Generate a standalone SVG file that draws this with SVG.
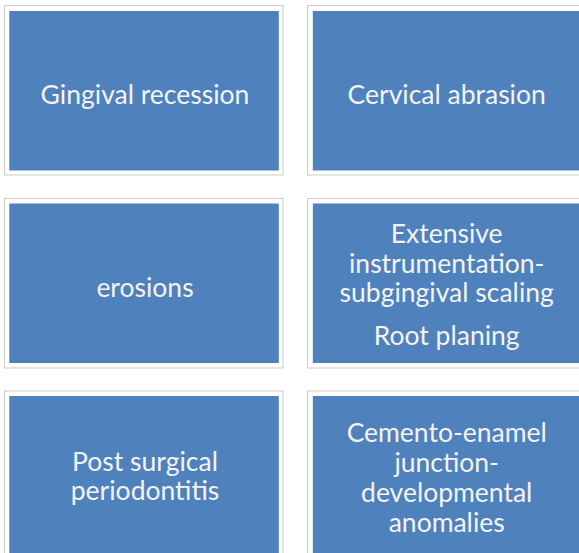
<svg xmlns="http://www.w3.org/2000/svg" width="579" height="553" viewBox="0 0 579 553">
<style>
.frame{fill:#ffffff;stroke:#cbcbcb;stroke-width:1}
.box{fill:#4f81bd}
.t{font-family:Lato,"Open Sans",sans-serif;font-size:26.5px;fill:#f4f4f4;text-anchor:middle}
</style>
<rect width="579" height="553" fill="#ffffff"/>
<g id="n1">
<rect class="frame" x="4.5" y="5.5" width="278.5" height="169.5"/>
<rect class="box" x="9.3" y="11" width="269.5" height="159.5"/>
<text class="t" x="145" y="103.5">Gingival recession</text>
</g>
<g id="n2">
<rect class="frame" x="307.5" y="5.5" width="278.5" height="169.5"/>
<rect class="box" x="312.8" y="11" width="269.5" height="159.5"/>
<text class="t" x="446.7" y="103.5">Cervical abrasion</text>
</g>
<g id="n3">
<rect class="frame" x="4.5" y="198.5" width="278.5" height="169.5"/>
<rect class="box" x="9.3" y="203.5" width="269.5" height="159.5"/>
<text class="t" x="145" y="296.5">erosions</text>
</g>
<g id="n4">
<rect class="frame" x="307.5" y="198.5" width="278.5" height="169.5"/>
<rect class="box" x="312.8" y="203.5" width="269.5" height="159.5"/>
<text class="t" x="446.7" y="243.2">Extensive</text>
<text class="t" x="446.7" y="273">instrumentation-</text>
<text class="t" x="446.7" y="302.2">subgingival scaling</text>
<text class="t" x="446.7" y="344.8">Root planing</text>
</g>
<g id="n5">
<rect class="frame" x="4.5" y="391" width="278.5" height="169.5"/>
<rect class="box" x="9.3" y="396" width="269.5" height="159.5"/>
<text class="t" x="145" y="471.3">Post surgical</text>
<text class="t" x="145" y="500.3">periodontitis</text>
</g>
<g id="n6">
<rect class="frame" x="307.5" y="391" width="278.5" height="169.5"/>
<rect class="box" x="312.8" y="396" width="269.5" height="159.5"/>
<text class="t" x="446.7" y="441.5">Cemento-enamel</text>
<text class="t" x="446.7" y="471.5">junction-</text>
<text class="t" x="446.7" y="501.5">developmental</text>
<text class="t" x="446.7" y="531.5">anomalies</text>
</g>
<g id="connectors"></g>
</svg>
